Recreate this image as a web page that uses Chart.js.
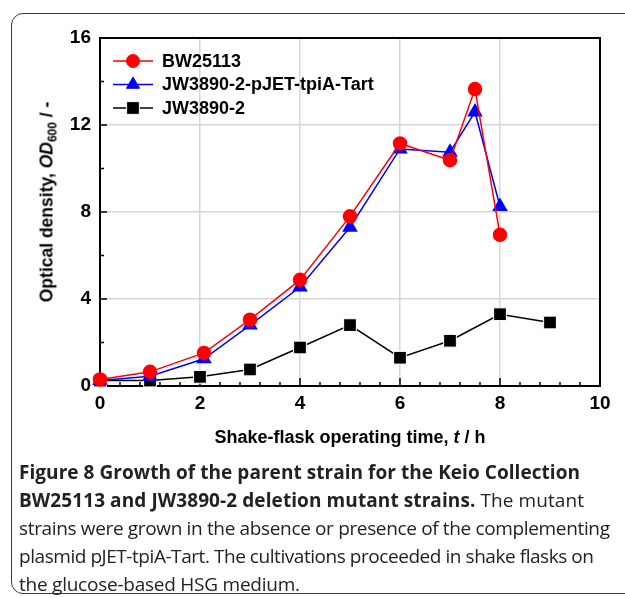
<!DOCTYPE html>
<html>
<head>
<meta charset="utf-8">
<script src="https://cdn.jsdelivr.net/npm/chart.js@4"></script>
<style>
  html, body { margin:0; padding:0; background:#fff; width:625px; height:598px; overflow:hidden; position:relative; }
  #frame { position:absolute; left:11px; top:13px; width:700px; height:581px; border:1.5px solid #3a3a3a; border-radius:12px; box-sizing:border-box; }
  #wrap { position:absolute; left:0; top:0; width:625px; height:460px; }
  #ytitle { position:absolute; left:48px; top:202px; transform:translate(-50%,-50%) rotate(-90deg); white-space:nowrap;
            font:bold 17.5px "Liberation Sans", Arial, sans-serif; color:#000; }
  #ytitle sub { font-size:12px; vertical-align:-4px; }
  #xtitle { position:absolute; left:350px; top:437px; transform:translate(-50%,-50%); white-space:nowrap;
            font:bold 18px "Liberation Sans", Arial, sans-serif; color:#000; }
  #caption { position:absolute; left:19px; top:458px; font:19px "Open Sans", sans-serif; color:#222; line-height:28px; white-space:nowrap; }
  #caption .ln span.m { display:inline-block; }
  #caption b { font-weight:bold; }
</style>
</head>
<body>
<div id="frame"></div>
<div id="wrap"><canvas id="c" width="625" height="460"></canvas></div>
<div id="ytitle">Optical density, <i>OD</i><sub>600</sub> / -</div>
<div id="xtitle">Shake-flask operating time, <i>t</i> / h</div>
<div id="caption">
<div class="ln" data-w="561"><span class="m"><b>Figure 8 Growth of the parent strain for the Keio Collection</b></span></div>
<div class="ln" data-w="565"><span class="m"><b>BW25113 and JW3890-2 deletion mutant strains.</b> The mutant</span></div>
<div class="ln" data-w="591"><span class="m">strains were grown in the absence or presence of the complementing</span></div>
<div class="ln" data-w="575"><span class="m">plasmid pJET-tpiA-Tart. The cultivations proceeded in shake flasks on</span></div>
<div class="ln" data-w="281"><span class="m">the glucose-based HSG medium.</span></div>
</div>
<script>
// ---- data ----
const seriesNames = ["BW25113", "JW3890-2-pJET-tpiA-Tart", "JW3890-2"];
const timeBW = [0, 1, 2.08, 3, 4, 5, 6, 7, 7.5, 8];
const odBW   = [0.3, 0.65, 1.52, 3.05, 4.88, 7.8, 11.15, 10.38, 13.65, 6.95];
const timeTart = [0, 1, 2.08, 3, 4, 5, 6, 7, 7.5, 8];
const odTart   = [0.25, 0.45, 1.25, 2.8, 4.55, 7.3, 10.9, 10.75, 12.6, 8.25];
const timeKO = [0, 1, 2, 3, 4, 5, 6, 7, 8, 9];
const odKO   = [0.25, 0.25, 0.42, 0.76, 1.77, 2.8, 1.3, 2.08, 3.3, 2.92];
const xTicks = [0, 2, 4, 6, 8, 10];
const yTicks = [0, 4, 8, 12, 16];

// fit caption lines to the reference line lengths
function fitCaption() {
  document.querySelectorAll('#caption .ln').forEach(ln => {
    const m = ln.querySelector('.m');
    m.style.letterSpacing = '0px';
    const w = m.getBoundingClientRect().width;
    const n = m.textContent.length;
    const target = +ln.dataset.w;
    m.style.letterSpacing = ((target - w) / Math.max(1, n - 1)) + 'px';
  });
}
fitCaption();
if (document.fonts && document.fonts.ready) document.fonts.ready.then(fitCaption);

const pts = (xs, ys) => xs.map((x, i) => ({x: x, y: ys[i]}));

const tickFont = {family: '"Liberation Sans", Arial, sans-serif', size: 19, weight: 'bold'};

const boxAndTicks = {
  id: 'boxAndTicks',
  beforeDatasetsDraw(chart) {
    const {ctx, chartArea: a, scales: {x, y}} = chart;
    ctx.save();
    ctx.strokeStyle = '#000';
    ctx.lineWidth = 1.5;
    for (let k = 0; k <= 25; k++) {
      const px = x.getPixelForValue(k * 0.4);
      const len = (k % 5 === 0) ? 8 : 4;
      ctx.beginPath(); ctx.moveTo(px, a.bottom); ctx.lineTo(px, a.bottom - len); ctx.stroke();
    }
    for (let k = 0; k <= 8; k++) {
      const py = y.getPixelForValue(k * 2);
      const len = (k % 2 === 0) ? 7 : 4;
      ctx.beginPath(); ctx.moveTo(a.left, py); ctx.lineTo(a.left + len, py); ctx.stroke();
    }
    ctx.lineWidth = 2;
    ctx.strokeRect(a.left, a.top, a.right - a.left, a.bottom - a.top);
    ctx.restore();
  }
};

const innerLegend = {
  id: 'innerLegend',
  afterDatasetsDraw(chart) {
    const {ctx, chartArea: a} = chart;
    ctx.save();
    chart.data.datasets.forEach((ds, i) => {
      const yy = a.top + 23 + i * 23.5;
      const x0 = a.left + 13;
      ctx.strokeStyle = ds.borderColor;
      ctx.lineWidth = 1.5;
      ctx.beginPath(); ctx.moveTo(x0, yy); ctx.lineTo(x0 + 40, yy); ctx.stroke();
      ctx.fillStyle = ds.pointBackgroundColor;
      ctx.strokeStyle = ds.pointBorderColor;
      ctx.lineWidth = 1;
      Chart.helpers.drawPoint(ctx, {pointStyle: ds.pointStyle, radius: ds.pointRadius, rotation: 0, borderWidth: 1}, x0 + 20, yy);
      ctx.fillStyle = '#000';
      ctx.font = 'bold 18px "Liberation Sans", Arial, sans-serif';
      ctx.textBaseline = 'middle';
      ctx.fillText(ds.label, x0 + 49, yy + 1);
    });
    ctx.restore();
  }
};

new Chart(document.getElementById('c'), {
  type: 'scatter',
  data: {
    datasets: [
      {label: seriesNames[0], data: pts(timeBW, odBW), showLine: true, borderColor: '#ff0000', backgroundColor: '#ff0000',
       pointBackgroundColor: '#ff0000', pointBorderColor: '#ff0000', pointStyle: 'circle', pointRadius: 6.5, borderWidth: 1.5, clip: false},
      {label: seriesNames[1], data: pts(timeTart, odTart), showLine: true, borderColor: '#0000ff', backgroundColor: '#0000ff',
       pointBackgroundColor: '#0000ff', pointBorderColor: '#0000ff', pointStyle: 'triangle', pointRadius: 7.5, borderWidth: 1.5, clip: false},
      {label: seriesNames[2], data: pts(timeKO, odKO), showLine: true, borderColor: '#000000', backgroundColor: '#000000',
       pointBackgroundColor: '#000000', pointBorderColor: '#ffffff', pointStyle: 'rect', pointRadius: 9, borderWidth: 1.5, pointBorderWidth: 1, clip: false}
    ]
  },
  options: {
    responsive: false,
    animation: false,
    devicePixelRatio: 1,
    layout: {padding: {left: 0, top: 38, right: 25, bottom: 0}},
    plugins: {legend: {display: false}, tooltip: {enabled: false}},
    scales: {
      x: {
        type: 'linear', min: 0, max: 10,
        afterBuildTicks: s => { s.ticks = xTicks.map(v => ({value: v})); },
        afterFit: s => { s.height = 74; },
        ticks: {font: tickFont, color: '#000', padding: 6, maxRotation: 0},
        grid: {color: '#d6d6d6', lineWidth: 1.5, drawTicks: false},
        border: {display: false}
      },
      y: {
        type: 'linear', min: 0, max: 16,
        afterBuildTicks: s => { s.ticks = yTicks.map(v => ({value: v})); },
        afterFit: s => { s.width = 100; },
        ticks: {font: tickFont, color: '#000', padding: 9},
        grid: {color: '#d6d6d6', lineWidth: 1.5, drawTicks: false},
        border: {display: false}
      }
    }
  },
  plugins: [boxAndTicks, innerLegend]
});
</script>
</body>
</html>
